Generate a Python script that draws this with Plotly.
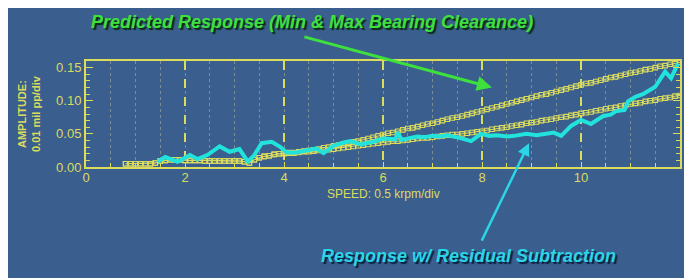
import plotly.graph_objects as go

# ---------------- data ----------------
speed_pred = [round(0.8 + 0.1 * i, 1) for i in range(113)]  # 0.8 ... 12.0 krpm

amp_max = [
    0.005, 0.005, 0.005, 0.005, 0.005, 0.005, 0.006, 0.009, 0.010, 0.011,
    0.011, 0.011, 0.010, 0.010, 0.010, 0.010, 0.009, 0.009, 0.009, 0.009,
    0.009, 0.009, 0.009, 0.009, 0.008, 0.006, 0.011, 0.014, 0.016, 0.017,
    0.019, 0.020, 0.021, 0.022, 0.022, 0.023, 0.024, 0.025, 0.026, 0.027,
    0.029, 0.030, 0.032, 0.033, 0.035, 0.036, 0.038, 0.039, 0.041, 0.043,
    0.045, 0.047, 0.049, 0.051, 0.052, 0.054, 0.056, 0.058, 0.059, 0.061,
    0.063, 0.065, 0.066, 0.068, 0.070, 0.072, 0.074, 0.075, 0.077, 0.079,
    0.081, 0.083, 0.085, 0.087, 0.089, 0.091, 0.093, 0.095, 0.097, 0.099,
    0.101, 0.103, 0.105, 0.107, 0.109, 0.110, 0.112, 0.114, 0.116, 0.118,
    0.120, 0.122, 0.124, 0.126, 0.127, 0.129, 0.131, 0.133, 0.135, 0.136,
    0.138, 0.140, 0.142, 0.143, 0.145, 0.147, 0.148, 0.150, 0.152, 0.153,
    0.155, 0.156, 0.158,
]

amp_min = [
    0.005, 0.005, 0.005, 0.005, 0.005, 0.005, 0.006, 0.009, 0.010, 0.011,
    0.011, 0.011, 0.010, 0.010, 0.010, 0.010, 0.009, 0.009, 0.009, 0.009,
    0.009, 0.009, 0.009, 0.009, 0.008, 0.006, 0.011, 0.014, 0.016, 0.017,
    0.019, 0.020, 0.020, 0.021, 0.021, 0.022, 0.023, 0.023, 0.024, 0.025,
    0.026, 0.026, 0.027, 0.028, 0.029, 0.030, 0.031, 0.032, 0.033, 0.034,
    0.035, 0.036, 0.037, 0.038, 0.039, 0.039, 0.040, 0.041, 0.042, 0.043,
    0.044, 0.044, 0.045, 0.046, 0.047, 0.048, 0.049, 0.049, 0.050, 0.051,
    0.052, 0.053, 0.054, 0.055, 0.057, 0.058, 0.059, 0.060, 0.062, 0.063,
    0.064, 0.066, 0.067, 0.068, 0.070, 0.071, 0.072, 0.074, 0.075, 0.076,
    0.078, 0.079, 0.081, 0.082, 0.083, 0.085, 0.086, 0.088, 0.089, 0.090,
    0.092, 0.093, 0.095, 0.096, 0.097, 0.099, 0.100, 0.101, 0.103, 0.104,
    0.105, 0.107, 0.108,
]

speed_meas = [
    1.45, 1.6, 1.85, 2.1, 2.25, 2.45, 2.7, 2.9, 3.1, 3.27, 3.4, 3.55, 3.75,
    3.93, 4.05, 4.25, 4.45, 4.65, 4.8, 5.0, 5.2, 5.35, 5.55, 5.8, 6.0, 6.25,
    6.3, 6.38, 6.55, 6.7, 6.85, 7.0, 7.15, 7.3, 7.55, 7.78, 7.98, 8.15, 8.3,
    8.5, 8.65, 8.9, 9.1, 9.3, 9.45, 9.6, 9.8, 10.0, 10.2, 10.45, 10.6, 10.7,
    10.88, 10.95, 11.1, 11.25, 11.35, 11.5, 11.7, 11.82, 11.96,
]
amp_meas = [
    0.008, 0.015, 0.008, 0.018, 0.012, 0.018, 0.031, 0.023, 0.027, 0.008,
    0.018, 0.036, 0.038, 0.030, 0.022, 0.022, 0.025, 0.028, 0.021, 0.032,
    0.037, 0.039, 0.034, 0.038, 0.043, 0.042, 0.052, 0.041, 0.044, 0.046,
    0.045, 0.047, 0.046, 0.048, 0.044, 0.039, 0.050, 0.047, 0.048, 0.046,
    0.047, 0.050, 0.048, 0.050, 0.052, 0.047, 0.062, 0.071, 0.065, 0.077,
    0.079, 0.084, 0.086, 0.099, 0.106, 0.110, 0.114, 0.121, 0.144, 0.134,
    0.156,
]

x_ticks = [0, 2, 4, 6, 8, 10]
y_ticks = [0.0, 0.05, 0.10, 0.15]
y_ticktext = ["0.00", "0.05", "0.10", "0.15"]

# ---------------- style ----------------
BG = "#3a5e8e"
YEL = "#dcdc5c"
CYAN = "#22e3dc"
GREEN = "#3ee03e"
CYAN_TXT = "#2ad6e6"

fig = go.Figure()

for amps in (amp_max, amp_min):
    fig.add_trace(go.Scatter(
        x=speed_pred, y=amps, mode="lines+markers",
        line=dict(color=YEL, width=1),
        marker=dict(symbol="square-open", size=4.5, color=YEL, line=dict(width=1.1, color=YEL)),
        hoverinfo="skip", showlegend=False,
    ))

fig.add_trace(go.Scatter(
    x=speed_meas, y=amp_meas, mode="lines",
    line=dict(color=CYAN, width=4),
    showlegend=False,
))

fig.update_layout(
    width=678, height=270,
    margin=dict(l=78, r=6, t=53, b=111),
    paper_bgcolor=BG,
    plot_bgcolor=BG,
    font=dict(family="Liberation Sans, Arial, sans-serif", color=YEL, size=12),
    xaxis=dict(
        range=[0, 12], tickvals=x_ticks, ticks="inside", ticklen=5, tickcolor=YEL,
        showline=True, linecolor=YEL, linewidth=2, mirror=True,
        showgrid=True, gridcolor=YEL, gridwidth=1.5, griddash="dash",
        zeroline=False, automargin=False, ticklabelstandoff=-3,
        tickfont=dict(size=13, color=YEL),
        minor=dict(dtick=0.5, ticks="inside", ticklen=4, tickcolor=YEL,
                   showgrid=True, gridcolor="rgba(200,200,150,0.45)", griddash="dot", gridwidth=1),
    ),
    yaxis=dict(
        range=[0, 0.16], tickvals=y_ticks, ticktext=y_ticktext,
        ticks="inside", ticklen=7, tickcolor=YEL,
        showline=True, linecolor=YEL, linewidth=2, mirror="allticks",
        showgrid=False, zeroline=False, automargin=False,
        tickfont=dict(size=13, color=YEL),
        minor=dict(dtick=0.01, ticks="inside", ticklen=4, tickcolor=YEL),
    ),
)

# axis titles
fig.add_annotation(xref="paper", yref="paper", x=(29 - 86) / 594, y=0.5,
                   xanchor="center", yanchor="middle",
                   text="<b>AMPLITUDE:<br>0.01 mil pp/div</b>", textangle=-90,
                   showarrow=False, font=dict(size=11, color=YEL), align="center")
fig.add_annotation(xref="paper", yref="paper", x=(383 - 86) / 594, y=(167 - 194) / 106,
                   xanchor="center", yanchor="middle",
                   text="SPEED: 0.5 krpm/div", showarrow=False,
                   font=dict(size=12, color=YEL))

# callouts
fig.add_annotation(xref="paper", yref="paper", x=(312 - 86) / 594, y=(167 - 22) / 106,
                   xanchor="center", yanchor="middle",
                   text="<b><i>Predicted Response (Min &amp; Max Bearing Clearance)</i></b>",
                   showarrow=False,
                   font=dict(size=18, color=GREEN, shadow="2px 2px 1px #0b2a10"))
fig.add_annotation(x=8.2, y=0.12, ax=-189, ay=-51, xref="x", yref="y",
                   text="", showarrow=True, arrowhead=2, arrowsize=1,
                   arrowwidth=3, arrowcolor=GREEN)

fig.add_annotation(xref="paper", yref="paper", x=(468 - 86) / 594, y=(167 - 256) / 106,
                   xanchor="center", yanchor="middle",
                   text="<b><i>Response w/ Residual Subtraction</i></b>",
                   showarrow=False,
                   font=dict(size=18, color=CYAN_TXT, shadow="2px 2px 1px #0b2040"))
fig.add_annotation(x=8.95, y=0.036, ax=-48, ay=99, xref="x", yref="y",
                   text="", showarrow=True, arrowhead=2, arrowsize=1,
                   arrowwidth=2.5, arrowcolor=CYAN_TXT)

fig.write_html("out.html")
